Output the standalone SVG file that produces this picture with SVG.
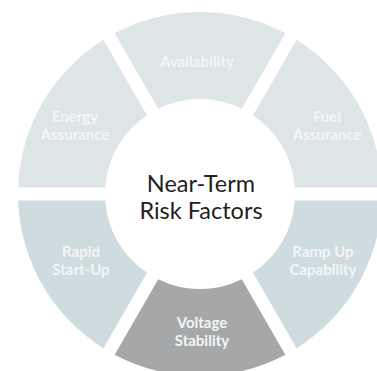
<svg xmlns="http://www.w3.org/2000/svg" xmlns:xlink="http://www.w3.org/1999/xlink" width="377" height="371" viewBox="0 0 377 371">
  <style>
    .light { fill: #dde5e7; }
    .mid { fill: #cedbdf; }
    .dark { fill: #a6a7a9; }
    .lbl { font-family: Lato, "Open Sans", "Liberation Sans", sans-serif; font-weight: bold; font-size: 15px; fill: #f3f6f7; text-anchor: middle; }
    .ctr { font-family: Lato, "Open Sans", "Liberation Sans", sans-serif; font-size: 23.5px; fill: #231f20; text-anchor: middle; }
  </style>
  <defs>
    <path id="seg" d="M 85.313 -160.766 A 182 182 0 0 0 -85.313 -160.766 L -41.760 -85.329 A 94 94 0 0 1 41.760 -85.329 Z"/>
  </defs>
  <rect width="377" height="371" fill="#ffffff"/>
  <g id="availability">
    <use xlink:href="#seg" class="light" transform="translate(200,194)"/>
    <text class="lbl" x="197" y="67">Availability</text>
  </g>
  <g id="fuel-assurance">
    <use xlink:href="#seg" class="light" transform="translate(200,194) rotate(60)"/>
    <text class="lbl" x="327" y="122">Fuel</text>
    <text class="lbl" x="327" y="140">Assurance</text>
  </g>
  <g id="ramp-up-capability">
    <use xlink:href="#seg" class="mid" transform="translate(200,194) rotate(120)"/>
    <text class="lbl" x="323" y="257">Ramp Up</text>
    <text class="lbl" x="323" y="275">Capability</text>
  </g>
  <g id="voltage-stability">
    <use xlink:href="#seg" class="dark" transform="translate(200,194) rotate(180)"/>
    <text class="lbl" x="202" y="328">Voltage</text>
    <text class="lbl" x="202" y="346">Stability</text>
  </g>
  <g id="rapid-start-up">
    <use xlink:href="#seg" class="mid" transform="translate(200,194) rotate(240)"/>
    <text class="lbl" x="81" y="257">Rapid</text>
    <text class="lbl" x="81" y="275">Start-Up</text>
  </g>
  <g id="energy-assurance">
    <use xlink:href="#seg" class="light" transform="translate(200,194) rotate(300)"/>
    <text class="lbl" x="75" y="122">Energy</text>
    <text class="lbl" x="75" y="140">Assurance</text>
  </g>
  <g id="center">
    <text class="ctr" x="201" y="192">Near-Term</text>
    <text class="ctr" x="201" y="219">Risk Factors</text>
  </g>
  <g id="connectors"/>
</svg>
